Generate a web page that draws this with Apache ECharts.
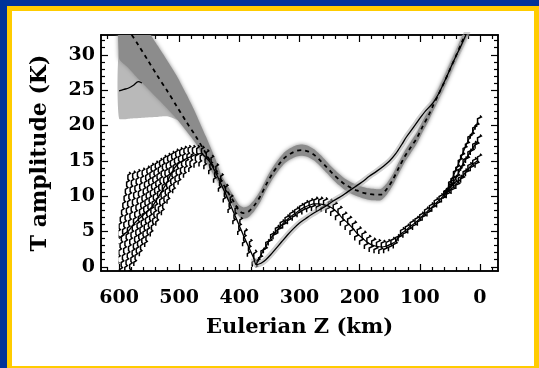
<!DOCTYPE html>
<html>
<head>
<meta charset="utf-8">
<script src="https://cdn.jsdelivr.net/npm/echarts@6/dist/echarts.min.js"></script>
<style>
  html, body { margin: 0; padding: 0; background: #fff; }
  #chart { width: 539px; height: 368px; }
</style>
</head>
<body>
<div id="chart"></div>
<script>
// Axis ranges and tick positions
const X_MIN = -30, X_MAX = 630;
const Y_MIN = -0.6, Y_MAX = 32.8;
const xMajor = [0, 100, 200, 300, 400, 500, 600];
const xMinor = [-20, 20, 40, 60, 80, 120, 140, 160, 180, 220, 240, 260, 280, 320, 340, 360, 380,
                420, 440, 460, 480, 520, 540, 560, 580, 620];
const yMajor = [0, 5, 10, 15, 20, 25, 30];
const yMinor = [1, 2, 3, 4, 6, 7, 8, 9, 11, 12, 13, 14, 16, 17, 18, 19, 21, 22, 23, 24, 26, 27, 28, 29, 31, 32];

// Grey band with dashed centre line
const zA = [600, 584, 568, 552, 536, 520, 504, 488, 472, 456, 440, 430, 420, 410, 400, 393, 385, 375, 365, 355,
            345, 335, 325, 315, 305, 295, 285, 275, 265, 255, 245, 235, 225, 215, 205, 195, 185, 175, 165, 155,
            145, 135, 125, 115, 105, 95, 85, 78, 70, 60, 50, 40, 30, 20];
const dashedA = [35.7, 33.5, 31.4, 29.2, 27.0, 24.9, 22.7, 20.5, 18.4, 16.1, 13.7, 12.2, 10.7, 9.3, 7.9, 7.6, 7.8, 8.7, 10.0, 11.7,
                 13.2, 14.4, 15.4, 16.0, 16.4, 16.5, 16.3, 15.8, 15.0, 14.1, 13.2, 12.4, 11.7, 11.2, 10.8, 10.5, 10.3, 10.2, 10.2, 11.0,
                 12.3, 14.0, 15.6, 16.9, 18.2, 19.9, 21.5, 22.8, 24.2, 26.0, 27.9, 29.8, 31.8, 33.8];
const upperA = [42.0, 38.6, 35.5, 33.4, 31.3, 29.2, 27.0, 24.4, 21.6, 18.5, 15.3, 13.0, 11.5, 10.1, 8.7, 8.4, 8.6, 9.5, 10.8, 12.5,
                14.0, 15.2, 16.2, 16.8, 17.2, 17.3, 17.1, 16.6, 15.8, 14.9, 14.0, 13.2, 12.5, 12.0, 11.6, 11.3, 11.1, 11.0, 11.0, 11.8,
                13.1, 14.8, 16.4, 17.7, 19.0, 20.7, 22.3, 23.6, 25.0, 26.8, 28.7, 30.6, 32.6, 34.6];
const lowerA = [29.5, 28.1, 26.6, 25.2, 23.8, 22.4, 20.9, 19.2, 17.4, 15.0, 12.6, 11.4, 9.9, 8.5, 7.1, 6.8, 7.0, 7.9, 9.2, 10.9,
                12.4, 13.6, 14.6, 15.2, 15.6, 15.7, 15.5, 15.0, 14.2, 13.3, 12.4, 11.6, 10.9, 10.4, 10.0, 9.7, 9.5, 9.4, 9.4, 10.2,
                11.5, 13.2, 14.8, 16.1, 17.4, 19.1, 20.7, 22.0, 23.4, 25.2, 27.1, 29.0, 31.0, 33.0];

// Light grey band with short solid line
const zB = [600, 580, 560, 540, 520, 500, 480];
const upperB = [30.5, 29.2, 27.5, 25.8, 24.3, 22.5, 20.5];
const lowerB = [21.0, 21.0, 21.1, 21.2, 21.3, 20.6, 18.6];
const zShort = [600, 592, 584, 576, 568, 562];
const shortB = [24.9, 25.1, 25.3, 25.7, 26.2, 26.0];

// Solid curve
const zSolid = [600, 592, 584, 576, 568, 560, 552, 544, 536, 528, 520, 512, 504, 496, 488, 480, 472, 464, 456, 448,
                440, 432, 424, 416, 408, 400, 392, 384, 376, 372, 364, 356, 348, 340, 330, 320, 310, 300, 290, 280,
                268, 256, 244, 232, 220, 208, 196, 184, 172, 161, 150, 140, 130, 122, 110, 100, 90, 78, 68, 58,
                48, 40, 33, 26, 20];
const solid = [4.0, 4.6, 5.1, 6.0, 6.7, 7.3, 7.9, 8.6, 9.7, 10.8, 12.0, 13.4, 14.4, 14.9, 15.3, 15.6, 15.9, 16.0, 15.5, 14.7,
               13.4, 12.0, 10.5, 9.0, 7.4, 5.8, 4.2, 2.7, 1.2, 0.3, 0.5, 1.0, 1.7, 2.5, 3.5, 4.5, 5.4, 6.2, 6.8, 7.4,
               8.0, 8.6, 9.3, 9.9, 10.6, 11.3, 12.0, 12.8, 13.5, 14.2, 15.0, 16.0, 17.3, 18.4, 19.8, 21.0, 22.1, 23.2, 24.6, 26.4,
               28.3, 29.8, 31.0, 32.3, 33.5];

// Left hatched error band
const zHL = [600, 592, 584, 576, 568, 560, 552, 544, 536, 528, 520, 512, 504, 496, 488, 480, 472, 464, 456, 448,
             440, 432, 424, 416, 408, 400, 392, 384, 376];
const hiHL = [13.4, 13.6, 13.8, 14.0, 14.3, 14.7, 15.0, 15.4, 15.8, 16.1, 16.4, 16.7, 16.9, 17.1, 17.2, 17.2, 17.2, 17.1, 16.6, 15.8,
              14.6, 13.2, 11.7, 10.2, 8.6, 7.0, 5.4, 3.9, 2.4];
const loHL = [-2.5, -2.2, -1.9, -1.6, -1.2, 0.1, 1.5, 2.8, 4.3, 5.8, 7.3, 8.9, 10.4, 11.6, 12.6, 13.4, 14.0, 14.2, 13.8, 13.1,
              11.9, 10.6, 9.1, 7.6, 6.0, 4.5, 2.9, 1.4, 0.0];

// Right hatched curve (centre, and the spread near the surface)
const zHR = [372, 364, 356, 348, 340, 332, 324, 316, 308, 300, 292, 284, 276, 268, 260, 252, 244, 236, 228, 220,
             212, 204, 196, 188, 180, 172, 164, 156, 148, 140, 132, 124, 116, 108, 100, 92, 84, 76, 68, 60,
             52, 44, 36, 28, 20, 12, 4];
const midHR = [0.3, 1.7, 2.9, 4.0, 4.9, 5.7, 6.4, 7.0, 7.5, 8.0, 8.4, 8.7, 8.9, 8.9, 8.8, 8.6, 8.2, 7.6, 6.8, 6.2,
               5.5, 4.7, 4.1, 3.5, 3.1, 2.9, 2.8, 2.9, 3.2, 3.6, 4.6, 5.1, 5.7, 6.2, 6.8, 7.5, 8.1, 8.8, 9.4, 10.1,
               11.0, 12.0, 13.2, 14.6, 15.7, 16.8, 17.7];
const zHRend = [60, 52, 44, 36, 28, 20, 12, 4];
const upHR = [10.1, 11.4, 12.9, 14.5, 16.2, 17.8, 19.1, 20.4];
const lowHR = [10.1, 10.7, 11.3, 12.0, 12.9, 13.8, 14.5, 15.0];
const HATCH_HALF = 1.0;

const FONT = '"DejaVu Serif", serif';
const INK = '#000';

// Filled polygon between lower and upper edges, drawn once for the whole band
function bandSeries(zs, lo, hi, fill, blur) {
  return {
    type: 'custom', clip: true, silent: true,
    data: zs.map((z, i) => [z, lo[i], hi[i]]),
    renderItem: function (params, api) {
      if (params.dataIndex !== 0) return null;
      const top = zs.map((z, i) => api.coord([z, hi[i]]));
      const bot = zs.map((z, i) => api.coord([z, lo[i]])).reverse();
      return {
        type: 'polygon',
        shape: { points: top.concat(bot), smooth: 0.2 },
        style: { fill: fill, shadowBlur: blur, shadowColor: fill }
      };
    }
  };
}

// Each error bar is drawn as a slanted zig-zag stroke from its low to its high value;
// strokes are kept to the right of the first sample of the band
function hatchSeries(items, slant, width, stepPx, hook) {
  const zStart = items[0][0];
  return {
    type: 'custom', clip: true, silent: true,
    data: items,
    renderItem: function (params, api) {
      const z = api.value(0), lo = api.value(1), hi = api.value(2);
      const a = api.coord([z, lo]);
      const b = api.coord([z, hi]);
      const L = a[1] - b[1];
      const n = Math.max(2, Math.round(L / stepPx));
      const s = L / n;
      const dx = L * slant;
      const j = dx / n;
      const x0 = a[0] - dx / 2;
      const pts = [[x0, a[1]]];
      for (let i = 0; i < n; i++) {
        const x = x0 + j * i, y = a[1] - s * i;
        pts.push([x, y - s * 0.55]);
        pts.push([x + j + hook, y - s * 0.8]);
        pts.push([x + j, y - s]);
      }
      const edge = api.coord([zStart, 0])[0];
      return {
        type: 'group',
        clipPath: { type: 'rect', shape: { x: edge - 0.5, y: -1000, width: 3000, height: 3000 } },
        children: [{
          type: 'polyline',
          shape: { points: pts },
          style: { stroke: INK, lineWidth: width, fill: null, lineJoin: 'miter' }
        }]
      };
    }
  };
}

function lineSeries(zs, vs, style) {
  return {
    type: 'line', silent: true, symbol: 'none', smooth: 0.3, clip: true,
    data: zs.map((z, i) => [z, vs[i]]),
    lineStyle: style
  };
}

function xAxisDef(pos, ticks, len, withLabels) {
  return {
    type: 'value', position: pos, min: X_MIN, max: X_MAX, inverse: true,
    axisLine: { show: true, onZero: false, lineStyle: { color: INK, width: 1.5 } },
    axisTick: { show: true, inside: true, length: len, customValues: ticks, lineStyle: { color: INK, width: 1.2 } },
    axisLabel: withLabels
      ? { show: true, customValues: ticks, margin: 18, color: INK, fontFamily: FONT, fontWeight: 'bold', fontSize: 19 }
      : { show: false },
    splitLine: { show: false },
    name: withLabels ? 'Eulerian Z (km)' : '',
    nameLocation: 'middle', nameGap: 46,
    nameTextStyle: { color: INK, fontFamily: FONT, fontWeight: 'bold', fontSize: 21 }
  };
}

function yAxisDef(pos, ticks, len, withLabels) {
  return {
    type: 'value', position: pos, min: Y_MIN, max: Y_MAX,
    axisLine: { show: true, onZero: false, lineStyle: { color: INK, width: 1.5 } },
    axisTick: { show: true, inside: true, length: len, customValues: ticks, lineStyle: { color: INK, width: 1.2 } },
    axisLabel: withLabels
      ? { show: true, customValues: ticks, margin: 6, color: INK, fontFamily: FONT, fontWeight: 'bold', fontSize: 19 }
      : { show: false },
    splitLine: { show: false },
    name: withLabels ? 'T amplitude (K)' : '',
    nameLocation: 'middle', nameGap: 50, nameRotate: 90,
    nameTextStyle: { color: INK, fontFamily: FONT, fontWeight: 'bold', fontSize: 22 }
  };
}

const chart = echarts.init(document.getElementById('chart'), null, { renderer: 'canvas' });

const option = {
  backgroundColor: '#fff',
  animation: false,
  grid: { left: 101, right: 41, top: 35, bottom: 97, show: false },
  xAxis: [
    xAxisDef('bottom', xMajor, 7, true),
    xAxisDef('bottom', xMinor, 4, false),
    xAxisDef('top', xMajor, 7, false),
    xAxisDef('top', xMinor, 4, false)
  ],
  yAxis: [
    yAxisDef('left', yMajor, 7, true),
    yAxisDef('left', yMinor, 4, false),
    yAxisDef('right', yMajor, 7, false),
    yAxisDef('right', yMinor, 4, false)
  ],
  graphic: [
    { type: 'rect', shape: { x: 0, y: 0, width: 539, height: 6 }, style: { fill: '#003399' }, z: 100 },
    { type: 'rect', shape: { x: 0, y: 0, width: 7, height: 368 }, style: { fill: '#003399' }, z: 100 },
    { type: 'rect', shape: { x: 7, y: 6, width: 532, height: 5 }, style: { fill: '#ffcc00' }, z: 100 },
    { type: 'rect', shape: { x: 7, y: 6, width: 5, height: 362 }, style: { fill: '#ffcc00' }, z: 100 },
    { type: 'rect', shape: { x: 534, y: 6, width: 5, height: 362 }, style: { fill: '#ffcc00' }, z: 100 },
    { type: 'rect', shape: { x: 7, y: 366, width: 532, height: 2 }, style: { fill: '#ffcc00' }, z: 100 }
  ],
  series: [
    bandSeries(zB, lowerB, upperB, '#b9b9b9', 0),
    bandSeries(zA, lowerA, upperA, '#8c8c8c', 4),
    lineSeries(zSolid.slice(28), solid.slice(28), { color: 'rgba(170,170,170,0.55)', width: 6 }),
    hatchSeries(zHL.map((z, i) => [z, loHL[i], hiHL[i]]), 0.18, 1.5, 7, 1.3),
    hatchSeries(zHR.map((z, i) => [z, midHR[i] - HATCH_HALF, midHR[i] + HATCH_HALF]), 0.35, 1.5, 6, 1.3),
    hatchSeries(zHRend.map((z, i) => [z, upHR[i] - HATCH_HALF, upHR[i] + HATCH_HALF]), 0.35, 1.5, 6, 1.3),
    hatchSeries(zHRend.map((z, i) => [z, lowHR[i] - HATCH_HALF, lowHR[i] + HATCH_HALF]), 0.35, 1.5, 6, 1.3),
    lineSeries(zHR, midHR, { color: INK, width: 1.2 }),
    lineSeries(zHRend, upHR, { color: INK, width: 1.2 }),
    lineSeries(zHRend, lowHR, { color: INK, width: 1.2 }),
    lineSeries(zSolid, solid, { color: INK, width: 1.3 }),
    lineSeries(zShort, shortB, { color: INK, width: 1.3 }),
    lineSeries(zA, dashedA, { color: INK, width: 1.8, type: [4, 4] })
  ]
};

chart.setOption(option);
</script>
</body>
</html>
